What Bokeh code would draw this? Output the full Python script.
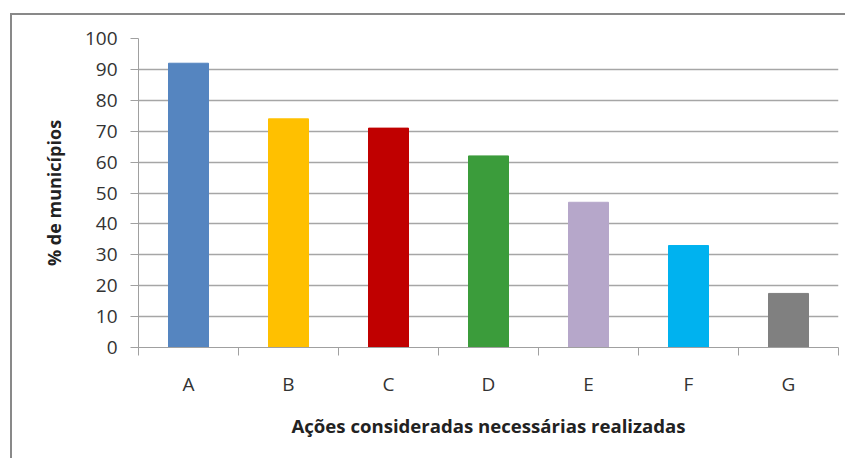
from bokeh.plotting import figure
from bokeh.models import FixedTicker, ColumnDataSource, Range1d
from bokeh.embed import file_html
from bokeh.resources import INLINE

categories = ["A", "B", "C", "D", "E", "F", "G"]
values = [92, 74, 71, 62, 47, 33, 17.5]
colors = ["#5585c0", "#ffc000", "#c00000", "#3b9c3b", "#b6a7ca", "#00b2ef", "#808080"]
y_ticks = [0, 10, 20, 30, 40, 50, 60, 70, 80, 90, 100]

FONT = "Open Sans"
x_pos = [i + 0.5 for i in range(len(categories))]
src = ColumnDataSource(dict(x=x_pos, top=values, color=colors, cat=categories))

p = figure(width=835, height=445, output_backend="svg", toolbar_location=None,
           x_range=Range1d(0, len(categories)), y_range=Range1d(0, 100),
           min_border_left=126, min_border_right=9, min_border_top=23, min_border_bottom=113)
p.styles = {"margin-left": "10px", "margin-top": "13px",
            "border-left": "2px solid #898989", "border-top": "2px solid #898989"}
p.outline_line_color = None
p.background_fill_color = "white"
p.border_fill_color = "white"

p.vbar(x="x", top="top", width=0.4, bottom=0, color="color", line_color="color", source=src)

# y axis
p.yaxis.ticker = FixedTicker(ticks=y_ticks)
p.yaxis.axis_line_color = "#a0a0a0"
p.yaxis.major_tick_line_color = "#a0a0a0"
p.yaxis.major_tick_out = 8
p.yaxis.major_tick_in = 0
p.yaxis.minor_tick_line_color = None
p.yaxis.major_label_text_font = FONT
p.yaxis.major_label_text_font_size = "19px"
p.yaxis.major_label_text_color = "#333333"
p.yaxis.major_label_standoff = 13
p.yaxis.axis_label = "% de municípios"
p.yaxis.axis_label_text_font = FONT
p.yaxis.axis_label_text_font_style = "bold"
p.yaxis.axis_label_text_font_size = "18px"
p.yaxis.axis_label_text_color = "#222222"
p.yaxis.axis_label_standoff = 16

# x axis
p.xaxis.ticker = FixedTicker(ticks=x_pos, minor_ticks=list(range(len(categories) + 1)))
p.xaxis.major_label_overrides = {x: c for x, c in zip(x_pos, categories)}
p.xaxis.axis_line_color = "#a0a0a0"
p.xaxis.major_tick_line_color = None
p.xaxis.major_tick_out = 0
p.xaxis.major_tick_in = 0
p.xaxis.minor_tick_line_color = "#a0a0a0"
p.xaxis.minor_tick_out = 8
p.xaxis.minor_tick_in = 0
p.xaxis.major_label_text_font = FONT
p.xaxis.major_label_text_font_size = "19px"
p.xaxis.major_label_text_color = "#333333"
p.xaxis.major_label_standoff = 15
p.xaxis.axis_label = "Ações consideradas necessárias realizadas"
p.xaxis.axis_label_text_font = FONT
p.xaxis.axis_label_text_font_style = "bold"
p.xaxis.axis_label_text_font_size = "18.6px"
p.xaxis.axis_label_text_color = "#222222"
p.xaxis.axis_label_standoff = 13

p.xgrid.grid_line_color = None
p.ygrid.ticker = FixedTicker(ticks=y_ticks)
p.ygrid.grid_line_color = "#a6a6a6"
p.ygrid.grid_line_width = 1.5

open("out.html", "w").write(file_html(p, INLINE))
